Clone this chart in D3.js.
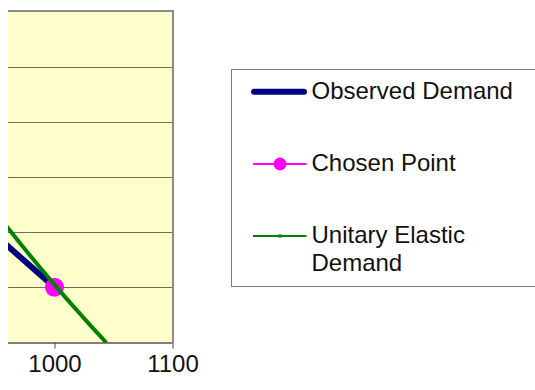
<!DOCTYPE html>
<html>
<head>
<meta charset="utf-8">
<script src="https://cdn.jsdelivr.net/npm/d3@7"></script>
<style>
  html, body { margin: 0; padding: 0; background: #ffffff; }
  svg { display: block; }
  text { font-family: "Liberation Sans", Arial, sans-serif; }
</style>
</head>
<body>
<svg id="chart" width="535" height="390"></svg>
<script>
// ---- data ----
const xTicks = [1000, 1100];
const yGrid = [24, 25, 26, 27, 28, 29, 30];

const observedQ = [900, 1000];
const observedP = [26.89, 25.0];

const chosenQ = [1000];
const chosenP = [25.0];

const unitaryQ = [955, 960, 970, 980, 990, 1000, 1010, 1020, 1030, 1040, 1044];
const unitaryP = [26.23, 26.09, 25.82, 25.56, 25.30, 25.05, 24.80, 24.56, 24.32, 24.09, 23.99];

const legendLabels = [["Observed Demand"], ["Chosen Point"], ["Unitary Elastic", "Demand"]];

// ---- layout ----
const svg = d3.select("#chart");
const plot = { left: 8, top: 11.5, right: 172.5, bottom: 342.5 };

const x = d3.scaleLinear().domain([960.6, 1100]).range([plot.left, plot.right]);
const y = d3.scaleLinear().domain([24, 30]).range([plot.bottom, plot.top]);

svg.append("defs").append("clipPath").attr("id", "clip")
  .append("rect")
  .attr("x", plot.left).attr("y", plot.top)
  .attr("width", plot.right - plot.left).attr("height", plot.bottom - plot.top);

// background
svg.append("rect")
  .attr("x", plot.left).attr("y", plot.top)
  .attr("width", plot.right - plot.left).attr("height", plot.bottom - plot.top)
  .attr("fill", "#FFFFCC");

// gridlines
svg.append("g").selectAll("line").data(yGrid.slice(1, -1)).join("line")
  .attr("x1", plot.left).attr("x2", plot.right)
  .attr("y1", d => Math.round(y(d)) + 0.5).attr("y2", d => Math.round(y(d)) + 0.5)
  .attr("stroke", "#6f6f5a").attr("stroke-width", 1);

// top & right border (grey)
svg.append("line").attr("x1", plot.left).attr("x2", plot.right + 1.5)
  .attr("y1", plot.top - 0.5).attr("y2", plot.top - 0.5)
  .attr("stroke", "#8a8a8a").attr("stroke-width", 2);
svg.append("line").attr("x1", plot.right + 0.5).attr("x2", plot.right + 0.5)
  .attr("y1", plot.top - 1.5).attr("y2", plot.bottom)
  .attr("stroke", "#8a8a8a").attr("stroke-width", 2);

const g = svg.append("g").attr("clip-path", "url(#clip)");

const line = d3.line().x(d => x(d[0])).y(d => y(d[1]));

// observed demand
g.append("path")
  .datum(observedQ.map((q, i) => [q, observedP[i]]))
  .attr("d", line)
  .attr("fill", "none").attr("stroke", "#000080").attr("stroke-width", 6);

// chosen point
g.selectAll("circle.chosen").data(chosenQ.map((q, i) => [q, chosenP[i]])).join("circle")
  .attr("class", "chosen")
  .attr("cx", d => x(d[0])).attr("cy", d => y(d[1])).attr("r", 9.5)
  .attr("fill", "#FF00FF");

// unitary elastic demand
g.append("path")
  .datum(unitaryQ.map((q, i) => [q, unitaryP[i]]))
  .attr("d", line)
  .attr("fill", "none").attr("stroke", "#008000").attr("stroke-width", 4);

// x axis
svg.append("line").attr("x1", plot.left).attr("x2", plot.right)
  .attr("y1", plot.bottom + 0.5).attr("y2", plot.bottom + 0.5)
  .attr("stroke", "#000").attr("stroke-width", 1);

const xAxis = d3.axisBottom(x).tickValues(xTicks).tickSize(6).tickSizeOuter(0).tickPadding(6)
  .tickFormat(d3.format("d"));
const ax = svg.append("g").attr("transform", `translate(0,${plot.bottom})`).call(xAxis);
ax.select(".domain").remove();
ax.selectAll(".tick line").attr("stroke", "#444");
ax.selectAll(".tick text")
  .attr("font-family", "'Liberation Sans', Arial, sans-serif")
  .attr("font-size", 24).attr("fill", "#111").attr("dy", null).attr("y", 29.5);

// legend
const lg = svg.append("g");
lg.append("rect").attr("x", 231.5).attr("y", 69.5).attr("width", 320).attr("height", 217)
  .attr("fill", "#fff").attr("stroke", "#7a7a7a").attr("stroke-width", 1);

const legY = [91.7, 164, 236];
// observed
lg.append("line").attr("x1", 254).attr("x2", 304).attr("y1", legY[0]).attr("y2", legY[0])
  .attr("stroke", "#000080").attr("stroke-width", 6).attr("stroke-linecap", "round");
// chosen
lg.append("line").attr("x1", 253).attr("x2", 306.5).attr("y1", legY[1]).attr("y2", legY[1])
  .attr("stroke", "#FF00FF").attr("stroke-width", 2);
lg.append("circle").attr("cx", 280).attr("cy", legY[1]).attr("r", 6.5).attr("fill", "#FF00FF");
// unitary
lg.append("line").attr("x1", 253).attr("x2", 306.5).attr("y1", legY[2]).attr("y2", legY[2])
  .attr("stroke", "#008000").attr("stroke-width", 2);
lg.append("rect").attr("x", 278).attr("y", legY[2] - 1.5).attr("width", 4).attr("height", 3).attr("fill", "#008000");

const textBase = [[99.3], [170.7], [243.3, 270.7]];
legendLabels.forEach((lines, i) => {
  lines.forEach((t, j) => {
    lg.append("text").attr("x", 311.5).attr("y", textBase[i][j])
      .attr("font-size", 24).attr("fill", "#111").text(t);
  });
});
</script>
</body>
</html>
